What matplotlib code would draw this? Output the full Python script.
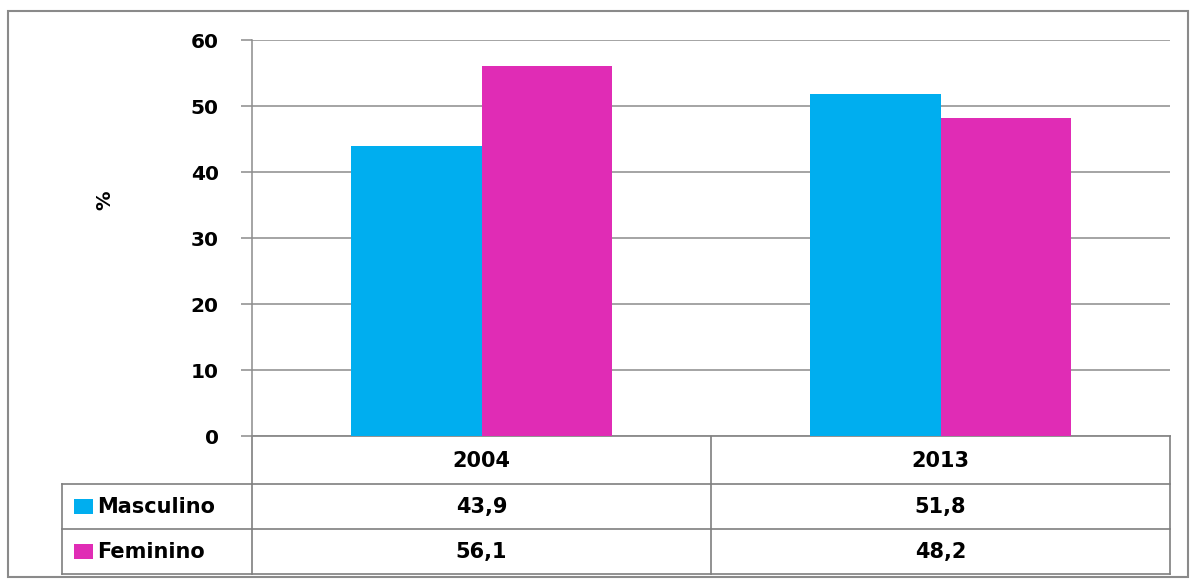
import matplotlib
matplotlib.use("Agg")
import matplotlib.pyplot as plt
from matplotlib.patches import Rectangle

# ---- data ----
years = ["2004", "2013"]
series_names = ["Masculino", "Feminino"]
masculino = [43.9, 51.8]
feminino = [56.1, 48.2]
value_labels_m = ["43,9", "51,8"]
value_labels_f = ["56,1", "48,2"]
yticks = [0, 10, 20, 30, 40, 50, 60]

colors = ["#00AEEF", "#E02CB5"]
grid_col = "#8c8c8c"

W, H = 1194, 583
fig = plt.figure(figsize=(W / 100, H / 100), dpi=100)
fig.patch.set_facecolor("white")

# overlay axes in pixel coordinates (for frame and table)
ov = fig.add_axes([0, 0, 1, 1], zorder=0)
ov.set_xlim(0, W)
ov.set_ylim(H, 0)
ov.axis("off")

# plot axes
L, R, T, B = 252, 1170, 40, 436
ax = fig.add_axes([L / W, (H - B) / H, (R - L) / W, (B - T) / H], zorder=1)
ax.patch.set_alpha(0)
x = list(range(len(years)))
bw = 0.285
ax.bar([i - bw / 2 for i in x], masculino, width=bw, color=colors[0], zorder=3)
ax.bar([i + bw / 2 for i in x], feminino, width=bw, color=colors[1], zorder=3)
ax.set_xlim(-0.5, len(years) - 0.5)
ax.set_ylim(0, 60)
ax.set_yticks(yticks)
ax.set_yticklabels([str(v) for v in yticks], fontsize=14.5, fontweight="bold")
ax.yaxis.grid(True, color=grid_col, linewidth=1.1, zorder=0)
ax.set_axisbelow(True)
ax.set_xticks([])
for s in ["top", "right", "bottom"]:
    ax.spines[s].set_visible(False)
ax.spines["left"].set_color(grid_col)
ax.spines["left"].set_linewidth(1.1)
ax.tick_params(axis="y", direction="out", length=8, width=1.1, color=grid_col, pad=16)
fig.text(105 / W, 1 - 200 / H, "%", rotation=90, fontsize=14, fontweight="bold",
         ha="center", va="center")

# outer frame
ov.add_patch(Rectangle((8, 11), 1180, 566, fill=False, edgecolor="#8a8a8a", linewidth=1.5))

# table
lc = "#7f7f7f"
lw = 1.2
TL = 62
mid = (L + R) / 2
ov.plot([L, R], [436, 436], color=lc, lw=lw)
ov.plot([TL, R], [484, 484], color=lc, lw=lw)
ov.plot([TL, R], [529, 529], color=lc, lw=lw)
ov.plot([TL, R], [574, 574], color=lc, lw=lw)
ov.plot([TL, TL], [484, 574], color=lc, lw=lw)
ov.plot([L, L], [436, 574], color=lc, lw=lw)
ov.plot([mid, mid], [436, 574], color=lc, lw=lw)
ov.plot([R, R], [436, 574], color=lc, lw=lw)

col_centers = [(L + mid) / 2, (mid + R) / 2]
fs = 15
for i, yr in enumerate(years):
    ov.text(col_centers[i], 461, yr, ha="center", va="center", fontsize=fs, fontweight="bold")
    ov.text(col_centers[i], 507, value_labels_m[i], ha="center", va="center", fontsize=fs, fontweight="bold")
    ov.text(col_centers[i], 552, value_labels_f[i], ha="center", va="center", fontsize=fs, fontweight="bold")

for j, (name, yc) in enumerate(zip(series_names, [506, 551])):
    ov.add_patch(Rectangle((74, yc - 7.5), 19, 15, color=colors[j], linewidth=0))
    ov.text(97, yc + 1, name, ha="left", va="center", fontsize=fs, fontweight="bold")

fig.savefig("out.png", dpi=100, facecolor="white")
